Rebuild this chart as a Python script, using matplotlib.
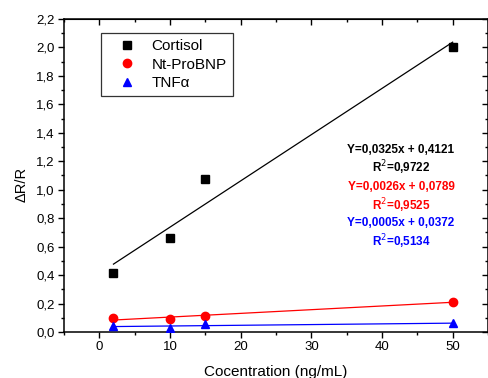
import matplotlib
matplotlib.use("Agg")
import matplotlib.pyplot as plt
from matplotlib.ticker import FuncFormatter, MultipleLocator

plt.rcParams["font.family"] = ["Liberation Sans", "DejaVu Sans"]

# concentrations (ng/mL)
conc = [2, 10, 15, 50]

# measured dR/R per biomarker
cortisol = [0.415, 0.663, 1.075, 2.003]
ntprobnp = [0.100, 0.093, 0.112, 0.211]
tnfa = [0.045, 0.030, 0.055, 0.065]

# linear fits reported on the figure (slope, intercept, R^2)
fits = {
    "Cortisol": (0.0325, 0.4121, 0.9722),
    "Nt-ProBNP": (0.0026, 0.0789, 0.9525),
    "TNFα": (0.0005, 0.0372, 0.5134),
}

names = ["Cortisol", "Nt-ProBNP", "TNFα"]
series = [cortisol, ntprobnp, tnfa]
colors = ["black", "#ff0000", "#0000ff"]
markers = ["s", "o", "^"]
msizes = [5.2, 6.0, 6.0]

fig = plt.figure(figsize=(4.89, 3.78), dpi=100)
ax = fig.add_axes([64 / 489, (378 - 332) / 378, (488 - 64) / 489, (332 - 19) / 378])

x0, x1 = min(conc), max(conc)
for name, ys, c, m, ms in zip(names, series, colors, markers, msizes):
    ax.plot(conc, ys, linestyle="none", marker=m, color=c, markersize=ms, label=name,
            zorder=3)
    a, b, _ = fits[name]
    ax.plot([x0, x1], [a * x0 + b, a * x1 + b], color=c, linewidth=0.9, zorder=2)

ax.set_xlim(-5, 55)
ax.set_ylim(0, 2.2)
ax.xaxis.set_major_locator(MultipleLocator(10))
ax.xaxis.set_minor_locator(MultipleLocator(5))
ax.yaxis.set_major_locator(MultipleLocator(0.2))
ax.yaxis.set_minor_locator(MultipleLocator(0.1))
ax.yaxis.set_major_formatter(FuncFormatter(lambda v, p: f"{v:.1f}".replace(".", ",")))
ax.xaxis.set_major_formatter(FuncFormatter(lambda v, p: f"{v:.0f}"))

ax.tick_params(which="both", direction="out", top=False, right=False, labelsize=9.5,
               width=1, pad=2.5)
ax.tick_params(which="major", length=4.3)
ax.tick_params(which="minor", length=2.3)
for s in ax.spines.values():
    s.set_linewidth(1.1)

# inward ticks on top and right
axt = ax.secondary_xaxis("top")
axt.xaxis.set_major_locator(MultipleLocator(10))
axt.xaxis.set_minor_locator(MultipleLocator(5))
axt.tick_params(which="both", direction="in", labeltop=False, width=1)
axt.tick_params(which="major", length=4.3)
axt.tick_params(which="minor", length=2.3)
axr = ax.secondary_yaxis("right")
axr.yaxis.set_major_locator(MultipleLocator(0.2))
axr.yaxis.set_minor_locator(MultipleLocator(0.1))
axr.tick_params(which="both", direction="in", labelright=False, width=1)
axr.tick_params(which="major", length=4.3)
axr.tick_params(which="minor", length=2.3)

# axis titles placed as in the reference (x title sits at the bottom edge)
fig.text(276 / 489, 1 - 376 / 378, "Cocentration (ng/mL)", fontsize=11,
         ha="center", va="baseline")
fig.text(22 / 489, 1 - 184 / 378, "ΔR/R", fontsize=10.5, rotation=90,
         ha="center", va="center")

leg = ax.legend(loc="upper left", bbox_to_anchor=(0.087, 0.955), fontsize=11,
                frameon=True, fancybox=False, edgecolor="black", handletextpad=0.3,
                borderpad=0.4, labelspacing=0.3, handlelength=2.6, borderaxespad=0)
leg.get_frame().set_linewidth(0.9)

ys_txt = [(150, 168), (187, 206), (223, 242)]
for name, c, (yy, yr) in zip(names, colors, ys_txt):
    a, b, r2 = fits[name]
    eq = f"Y={a:.4f}x + {b:.4f}".replace(".", ",")
    rr = f"R$^2$={r2:.4f}".replace(".", ",")
    fig.text(401 / 489, 1 - yy / 378, eq, color=c, fontsize=8.5, fontweight="bold",
             ha="center", va="center")
    fig.text(401 / 489, 1 - yr / 378, rr, color=c, fontsize=8.5, fontweight="bold",
             ha="center", va="center")

fig.savefig("out.png", dpi=100)
